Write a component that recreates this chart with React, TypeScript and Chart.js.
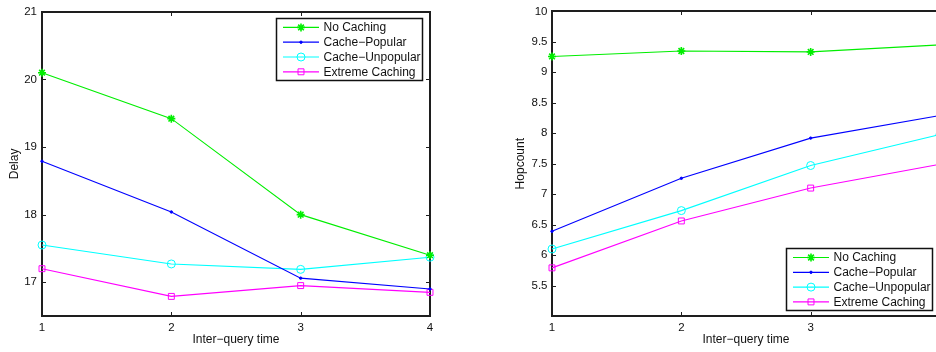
import { useEffect, useRef } from 'react';
import { Chart, registerables } from 'chart.js';
import { drawPoint } from 'chart.js/helpers';

Chart.register(...registerables);

// ---- data ----
const interQueryTimes = ['1', '2', '3', '4'];
const seriesNames = ['No Caching', 'Cache\u2212Popular', 'Cache\u2212Unpopular', 'Extreme Caching'];

const delayNoCaching = [20.10, 19.42, 18.00, 17.40];
const delayCachePopular = [18.79, 18.04, 17.06, 16.90];
const delayCacheUnpopular = [17.55, 17.27, 17.19, 17.37];
const delayExtremeCaching = [17.20, 16.79, 16.95, 16.85];
const delayTicks = [17, 18, 19, 20, 21];

const hopNoCaching = [9.26, 9.35, 9.335, 9.45];
const hopCachePopular = [6.39, 7.26, 7.92, 8.29];
const hopCacheUnpopular = [6.10, 6.73, 7.47, 7.98];
const hopExtremeCaching = [5.79, 6.56, 7.10, 7.49];
const hopTicks = [5.5, 6, 6.5, 7, 7.5, 8, 8.5, 9, 9.5, 10];

// ---- styles ----
const seriesColors = ['#00ee00', '#0000ff', '#00ffff', '#ff00ff'];
const seriesPointStyles = ['star', 'circle', 'circle', 'rect'];
const seriesPointRadius = [4, 1.2, 4, 4.2];
const seriesPointBorder = [1.6, 1, 1, 1];
const seriesPointFill = ['#00ee00', '#0000ff', 'rgba(0,0,0,0)', 'rgba(0,0,0,0)'];

const FONT = '"Liberation Sans", Arial, sans-serif';
const TEXT_COLOR = '#111';

const boxPlugin = {
  id: 'matlabBox',
  beforeDatasetsDraw(chart: any) {
    const { ctx, chartArea: a } = chart;
    const xs = chart.scales.x;
    const ys = chart.scales.y;
    ctx.save();
    ctx.strokeStyle = '#1e1e1e';
    ctx.lineWidth = 2;
    const L = Math.round(a.left);
    const R = Math.round(a.right);
    const T = Math.round(a.top);
    const B = Math.round(a.bottom);
    ctx.beginPath();
    ctx.rect(L, T, R - L, B - T);
    ctx.stroke();
    const tl = 4;
    ctx.lineWidth = 1;
    ctx.beginPath();
    xs.ticks.forEach((_t: any, i: number) => {
      const px = Math.round(xs.getPixelForTick(i)) + 0.5;
      ctx.moveTo(px, B);
      ctx.lineTo(px, B - tl);
      ctx.moveTo(px, T);
      ctx.lineTo(px, T + tl);
    });
    ys.ticks.forEach((t: any) => {
      const py = Math.round(ys.getPixelForValue(t.value)) + 0.5;
      ctx.moveTo(L, py);
      ctx.lineTo(L + tl, py);
      ctx.moveTo(R, py);
      ctx.lineTo(R - tl, py);
    });
    ctx.stroke();
    ctx.restore();
  },
  afterDraw(chart: any, _args: any, opts: any) {
    const { ctx, chartArea: a } = chart;
    const w = 146;
    const h = 62;
    const left = a.right - opts.marginRight - w;
    const top = opts.corner === 'top' ? a.top + opts.marginV : a.bottom - opts.marginV - h;
    ctx.save();
    ctx.fillStyle = '#fff';
    ctx.fillRect(left, top, w, h);
    ctx.strokeStyle = '#111';
    ctx.lineWidth = 1.5;
    ctx.strokeRect(Math.round(left) + 0.5, Math.round(top) + 0.5, w, h);
    ctx.font = '12px ' + FONT;
    ctx.textBaseline = 'middle';
    ctx.textAlign = 'left';
    chart.data.datasets.forEach((ds: any, i: number) => {
      const yy = top + 9.5 + i * 14.8;
      ctx.strokeStyle = ds.borderColor;
      ctx.lineWidth = 1.2;
      ctx.beginPath();
      ctx.moveTo(left + 7, yy);
      ctx.lineTo(left + 43, yy);
      ctx.stroke();
      ctx.fillStyle = ds.pointBackgroundColor;
      ctx.lineWidth = ds.pointBorderWidth;
      drawPoint(ctx, {
        pointStyle: ds.pointStyle,
        radius: ds.pointRadius,
        rotation: 0,
        borderWidth: ds.pointBorderWidth,
      }, left + 25, yy);
      ctx.fillStyle = TEXT_COLOR;
      ctx.fillText(ds.label, left + 47.5, yy + 0.5);
    });
    ctx.restore();
  },
};

function makeConfig(
  series: number[][],
  ticks: number[],
  yMin: number,
  yMax: number,
  yTitle: string,
  yTitlePad: number,
  yLabelPad: number,
  legend: any
) {
  return {
    type: 'line',
    data: {
      labels: interQueryTimes,
      datasets: series.map((vals, i) => ({
        label: seriesNames[i],
        data: vals,
        borderColor: seriesColors[i],
        backgroundColor: seriesColors[i],
        pointBackgroundColor: seriesPointFill[i],
        pointBorderColor: seriesColors[i],
        pointStyle: seriesPointStyles[i],
        pointRadius: seriesPointRadius[i],
        pointBorderWidth: seriesPointBorder[i],
        borderWidth: 1.1,
        tension: 0,
        fill: false,
        clip: false,
      })),
    },
    options: {
      animation: false,
      responsive: false,
      maintainAspectRatio: false,
      layout: { padding: { top: 10, right: 40, left: 0, bottom: 0 } },
      plugins: {
        legend: { display: false },
        tooltip: { enabled: false },
        matlabBox: legend,
      },
      scales: {
        x: {
          type: 'category',
          offset: false,
          grid: { display: false, drawTicks: false },
          border: { display: false },
          ticks: {
            color: TEXT_COLOR,
            font: { family: FONT, size: 11.5 },
            padding: 5,
            maxRotation: 0,
            autoSkip: false,
          },
          title: {
            display: true,
            text: 'Inter\u2212query time',
            color: TEXT_COLOR,
            font: { family: FONT, size: 12 },
            padding: { top: 0, bottom: 5 },
          },
          afterFit(scale: any) {
            scale.height = 36;
          },
        },
        y: {
          type: 'linear',
          min: yMin,
          max: yMax,
          grid: { display: false, drawTicks: false },
          border: { display: false },
          afterBuildTicks(scale: any) {
            scale.ticks = ticks.map((v) => ({ value: v }));
          },
          ticks: {
            color: TEXT_COLOR,
            font: { family: FONT, size: 11.5 },
            padding: yLabelPad,
            callback: (v: any) => String(v),
          },
          title: {
            display: true,
            text: yTitle,
            color: TEXT_COLOR,
            font: { family: FONT, size: 12 },
            padding: { top: yTitlePad, bottom: 0 },
          },
          afterFit(scale: any) {
            scale.width = 42;
          },
        },
      },
    },
    plugins: [boxPlugin],
  } as any;
}

function PlotCanvas({ config }: { config: any }) {
  const ref = useRef<HTMLCanvasElement | null>(null);
  useEffect(() => {
    if (!ref.current) return;
    const chart = new Chart(ref.current, config);
    return () => chart.destroy();
  }, [config]);
  return <canvas ref={ref} width={470} height={352} style={{ display: 'block' }} />;
}

const leftConfig = makeConfig(
  [delayNoCaching, delayCachePopular, delayCacheUnpopular, delayExtremeCaching],
  delayTicks,
  16.5,
  21,
  'Delay',
  7,
  5,
  { corner: 'top', marginRight: 8, marginV: 6 }
);

const rightConfig = makeConfig(
  [hopNoCaching, hopCachePopular, hopCacheUnpopular, hopExtremeCaching],
  hopTicks,
  5,
  10,
  'Hopcount',
  3.4,
  4.5,
  { corner: 'bottom', marginRight: 8, marginV: 6 }
);

export default function App() {
  return (
    <div
      style={{
        position: 'fixed',
        left: 0,
        top: 0,
        width: 936,
        height: 352,
        overflow: 'hidden',
        background: '#fff',
      }}
    >
      <div style={{ position: 'absolute', left: 0, top: 0, width: 470, height: 352 }}>
        <PlotCanvas config={leftConfig} />
      </div>
      <div style={{ position: 'absolute', left: 510, top: 0, width: 470, height: 352 }}>
        <PlotCanvas config={rightConfig} />
      </div>
    </div>
  );
}
